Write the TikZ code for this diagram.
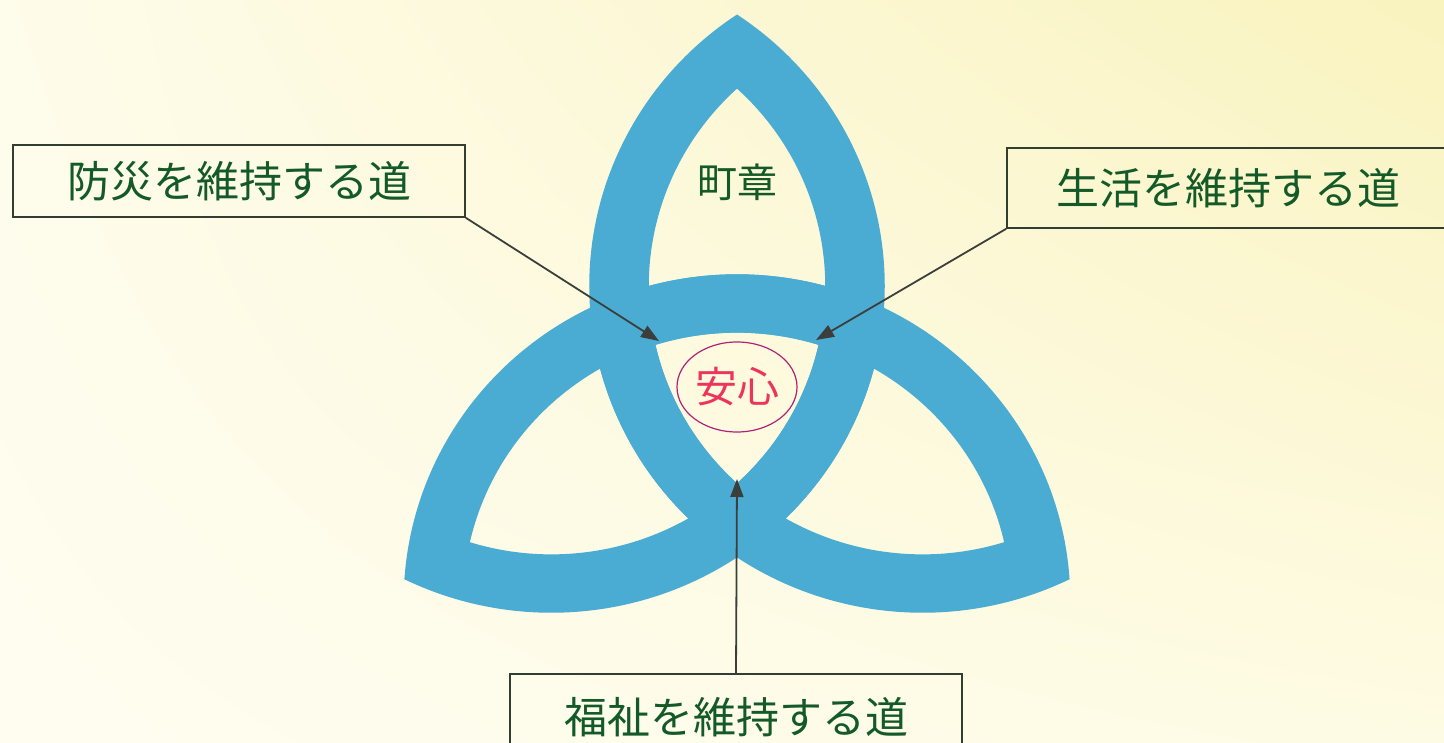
\documentclass[tikz,border=0pt]{standalone}
\usepackage{fontspec}
\newfontfamily\jp{Noto Sans CJK JP}
\usetikzlibrary{arrows.meta,shapes.geometric,shadings}
\definecolor{band}{RGB}{74,172,210}
\definecolor{txtgreen}{RGB}{20,90,40}
\definecolor{boxline}{RGB}{50,62,50}
\definecolor{arrowgray}{RGB}{60,62,60}
\definecolor{anshinred}{RGB}{236,52,92}
\definecolor{anshinring}{RGB}{176,34,120}
\definecolor{bgul}{RGB}{254,252,234}
\definecolor{bgur}{RGB}{249,243,190}
\definecolor{bgll}{RGB}{254,253,240}
\definecolor{bglr}{RGB}{254,251,228}
\begin{document}
\begin{tikzpicture}[x=1pt,y=1pt,
  labelbox/.style={draw=boxline, line width=1.6pt, inner sep=0pt,
    font=\jp\fontsize{43}{50}\selectfont, text=txtgreen},
  pointer/.style={draw=arrowgray, line width=1.8pt,
    -{Triangle[length=18pt,width=13pt,fill=arrowgray]}},
  bandfill/.style={fill=band, even odd rule}]
\useasboundingbox (0,0) rectangle (1444,-743);
% background
\shade[upper left=bgul, upper right=bgur, lower left=bgll, lower right=bglr]
  (0,0) rectangle (1444,-743);
% triquetra: three vesica rings
\begin{scope}[shift={(737,-391)}, xscale=1.02]
  \foreach \r in {0,120,240}{
    \fill[bandfill, rotate=\r, shift={(0,105)}]
      (0,271.5) arc[start angle=123.83, end angle=236.17, radius=326.8]
                arc[start angle=-56.17, end angle=56.17, radius=326.8] -- cycle
      (0,197.4) arc[start angle=132.68, end angle=227.32, radius=268.5]
                arc[start angle=-47.32, end angle=47.32, radius=268.5] -- cycle;
  }
\end{scope}
% labels
\node[text=txtgreen, font=\jp\fontsize{40}{46}\selectfont] (chosho) at (737,-182) {町章};
\node[draw=anshinring, line width=1.2pt, ellipse, minimum width=120, minimum height=90,
      inner sep=0pt, text=anshinred, font=\jp\fontsize{42}{48}\selectfont] (anshin) at (737,-387) {安心};
\node[labelbox, minimum width=452, minimum height=72] (box1) at (239,-181) {防災を維持する道};
\node[labelbox, minimum width=443, minimum height=80] (box2) at (1228.5,-188) {生活を維持する道};
\node[labelbox, minimum width=452, minimum height=86] (box3) at (736,-717) {福祉を維持する道};
% pointers
\coordinate (t1) at (659,-341);
\coordinate (t2) at (816,-340);
\coordinate (t3) at (737,-479);
\draw[pointer] (box1.south east) -- (t1);
\draw[pointer] (box2.south west) -- (t2);
\draw[pointer] (box3.north) -- (t3);
\end{tikzpicture}
\end{document}
